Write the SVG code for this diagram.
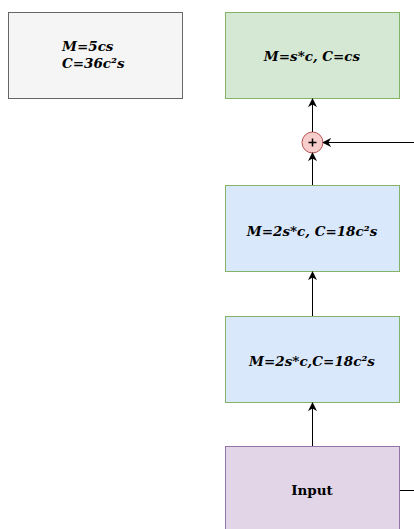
<svg xmlns="http://www.w3.org/2000/svg" width="414" height="529" viewBox="0 0 414 529">
<defs>
<marker id="arr" viewBox="0 0 10 10" refX="9" refY="5" markerWidth="9" markerHeight="9" orient="auto" markerUnits="userSpaceOnUse">
<path d="M0,0 L10,5 L0,10 L3,5 Z" fill="#000"/>
</marker>
<style>
.m{font-family:"DejaVu Serif",serif;font-size:13.5px;font-weight:bold;font-style:italic;fill:#000}
.t{font-family:"DejaVu Serif",serif;font-size:13.5px;font-weight:bold;fill:#000}
.e{fill:none;stroke:#000;stroke-width:1}
</style>
</defs>
<rect width="414" height="529" fill="#fff"/>
<g id="info">
<rect x="8.5" y="12.5" width="174" height="86" fill="#f5f5f5" stroke="#666"/>
<text class="m" x="62" y="51">M=5cs</text>
<text class="m" x="62" y="68">C=36c²s</text>
</g>
<g id="out">
<rect x="225.5" y="12.5" width="174" height="86" fill="#d5e8d4" stroke="#82b366"/>
<text class="m" x="312" y="61" text-anchor="middle">M=s*c, C=cs</text>
</g>
<g id="plus">
<circle cx="312.5" cy="142.5" r="10.5" fill="#f8cecc" stroke="#b85450"/>
<path d="M308.5,142.5 h8 M312.5,138.5 v8" stroke="#000" stroke-width="1.5"/>
</g>
<g id="blue1">
<rect x="225.5" y="185.5" width="174" height="86" fill="#dae8fc" stroke="#82b366"/>
<text class="m" x="312" y="236" text-anchor="middle">M=2s*c, C=18c²s</text>
</g>
<g id="blue2">
<rect x="225.5" y="316.5" width="174" height="86" fill="#dae8fc" stroke="#82b366"/>
<text class="m" x="312" y="366" text-anchor="middle">M=2s*c,C=18c²s</text>
</g>
<g id="input">
<rect x="225.5" y="446.5" width="174" height="90" fill="#e1d5e7" stroke="#9673a6"/>
<text class="t" x="312" y="495" text-anchor="middle">Input</text>
</g>
<g id="edges">
<path class="e" d="M312.5,446 L312.5,403" marker-end="url(#arr)"/>
<path class="e" d="M312.5,316 L312.5,272" marker-end="url(#arr)"/>
<path class="e" d="M312.5,185 L312.5,153" marker-end="url(#arr)"/>
<path class="e" d="M312.5,132 L312.5,99" marker-end="url(#arr)"/>
<path class="e" d="M414,142.5 L323,142.5" marker-end="url(#arr)"/>
<path class="e" d="M400,490.5 L414,490.5"/>
</g>
</svg>
